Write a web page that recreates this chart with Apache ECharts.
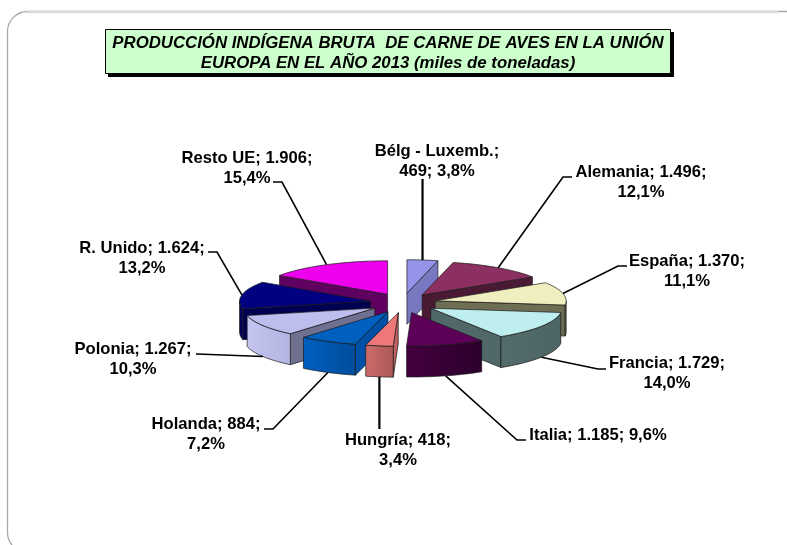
<!DOCTYPE html>
<html>
<head>
<meta charset="utf-8">
<style>html,body{margin:0;padding:0;background:#fff}#c{width:787px;height:545px}</style>
<script src="https://cdn.jsdelivr.net/npm/echarts@6/dist/echarts.min.js"></script>
</head>
<body>
<div id="c"></div>
<script>
// ---- data ----
const categories = ['Bélg - Luxemb.','Alemania','España','Francia','Italia','Hungría','Holanda','Polonia','R. Unido','Resto UE'];
const values = [469,1496,1370,1729,1185,418,884,1267,1624,1906];
const labelTexts = [
  'Bélg - Luxemb.;\n469; 3,8%','Alemania; 1.496;\n12,1%','España; 1.370;\n11,1%','Francia; 1.729;\n14,0%',
  'Italia; 1.185; 9,6%','Hungría; 418;\n3,4%','Holanda; 884;\n7,2%','Polonia; 1.267;\n10,3%','R. Unido; 1.624;\n13,2%','Resto UE; 1.906;\n15,4%'
];
const titleText = 'PRODUCCIÓN INDÍGENA BRUTA  DE CARNE DE AVES EN LA UNIÓN\nEUROPA EN EL AÑO 2013 (miles de toneladas)';

// ---- styles ----
const topColors = ['#9494EA','#8B3060','#EEEEBE','#BEEEEE','#5C0058','#EE7878','#0060C0','#BEBEEE','#000080','#EE00EE'];
const edgeColors = ['#7878C0','#4A1A35','#6E6E55','#506868','#3A0038','#BC6060','#0050A8','#707090','#000050','#600060'];
const wallFrom = ['#7878C0','#4A1A35','#6E6E55','#546C6C','#44003F','#CC6C6C','#0060C0','#C4C4F0','#000060','#600060'];
const wallTo = ['#7878C0','#4A1A35','#6E6E55','#4C6464','#2C002C','#AC5858','#004C9C','#B4B4E2','#000050','#600060'];

// ---- layout ----
const cx = 403, cy = 303, rx = 131, ry = 33.5, depth = 31, ex = 33, ey = 9.8;
const labelPos = [[437,151],[641,172],[687,261],[667,363],[598,435],[398,440],[206,424],[133,349],[142,248],[247,158]];
const leaderEnds = [
  [[null,179]],[[563,177],[572,177]],[[618,266],[627,266]],[[598,369],[606,369]],[[517,440],[526,440]],
  [[null,429]],[[273,429],[264,429]],[[197,354],[196,354]],[[217,252],[208,252]],[[282,182],[273,182]]
];
const leaderWidth = [2.2,1.6,1.6,1.6,1.6,2.2,1.6,1.6,1.6,1.6];

const total = values.reduce((a,b)=>a+b,0);
const rad = d => d*Math.PI/180;
let acc = 0;
const slices = values.map(v=>{ const s=acc/total*360; acc+=v; return {start:s,end:acc/total*360,mid:(s+acc/total*360)/2}; });
const rankOf = {};
slices.map((s,i)=>[Math.cos(rad(s.mid)),i]).sort((a,b)=>b[0]-a[0]).forEach((p,r)=>rankOf[p[1]]=r);

function arcPts(ax,ay,a,b,dy){
  const n=Math.max(2,Math.ceil(Math.abs(b-a)/2)), pts=[];
  for(let k=0;k<=n;k++){ const t=rad(a+(b-a)*k/n); pts.push([ax+rx*Math.sin(t), ay-ry*Math.cos(t)+dy]); }
  return pts;
}
const line = {stroke:'#1a1a1a',lineWidth:0.7,lineJoin:'round'};

function renderSlice(params,api){
  const i=api.value(0), s=slices[i], z=(rankOf[i]+1)*10;
  const m=rad(s.mid), ax=cx+ex*Math.sin(m), ay=cy-ey*Math.cos(m);
  const kids=[];
  const poly=(pts,fill,zz)=>kids.push({type:'polygon',z2:zz,shape:{points:pts},style:Object.assign({fill},line)});
  const wall=(p)=>{poly([[ax,ay],p,[p[0],p[1]+depth],[ax,ay+depth]],edgeColors[i],z+1);};
  const sp=arcPts(ax,ay,s.start,s.start,0)[0], ep=arcPts(ax,ay,s.end,s.end,0)[0];
  if(s.start>180) wall(sp);
  if(s.end<180) wall(ep);
  const a=Math.max(s.start,90), b=Math.min(s.end,270);
  if(b>a){
    const up=arcPts(ax,ay,a,b,0), dn=arcPts(ax,ay,a,b,depth).reverse();
    poly(up.concat(dn),{type:'linear',x:0,y:0,x2:1,y2:0,colorStops:[{offset:0,color:wallFrom[i]},{offset:1,color:wallTo[i]}]},z+2);
  }
  poly([[ax,ay]].concat(arcPts(ax,ay,s.start,s.end,0)),topColors[i],z+3);
  // leader line from the middle of the slice's outer arc
  const from=[ax+rx*Math.sin(m), ay-ry*Math.cos(m)+(Math.cos(m)<0?depth:0)];
  const ends=leaderEnds[i].map(p=>[p[0]===null?from[0]:p[0],p[1]]);
  kids.push({type:'polyline',z2:200,shape:{points:[from].concat(ends)},style:{fill:null,stroke:'#000',lineWidth:leaderWidth[i]}});
  kids.push({type:'text',z2:201,style:{text:labelTexts[i],x:labelPos[i][0],y:labelPos[i][1]-9,align:'center',verticalAlign:'top',
    font:'bold 16.6px "Liberation Sans", Arial, sans-serif',lineHeight:19.4,fill:'#000'}});
  return {type:'group',children:kids};
}

const chart = echarts.init(document.getElementById('c'),null,{renderer:'canvas'});
chart.setOption({
  animation:false,
  backgroundColor:'#fff',
  title:{
    text:titleText,left:381,top:29,textAlign:'center',padding:[5,7,1,7],
    backgroundColor:'#CCFFCC',borderColor:'#000',borderWidth:1,
    textStyle:{fontFamily:'"Liberation Sans", Arial, sans-serif',fontWeight:'bold',fontStyle:'italic',fontSize:16.8,lineHeight:19.5,color:'#000'}
  },
  graphic:[
    {type:'rect',z:-1,silent:true,shape:{x:7.5,y:11.5,width:800,height:541,r:20},style:{fill:'#fff',stroke:'#a8a8a8',lineWidth:1.3}},
    {type:'line',z:-1,silent:true,shape:{x1:27,y1:12,x2:778,y2:12},style:{stroke:'#d9d9d9',lineWidth:2.4}},
    {type:'rect',z:-1,silent:true,shape:{x:108,y:32,width:566,height:45},style:{fill:'#000'}}
  ],
  series:[{
    type:'custom',coordinateSystem:'none',silent:true,clip:false,
    renderItem:renderSlice,
    data:values.map((v,i)=>({name:categories[i],value:[i,v]}))
  }]
});
</script>
</body>
</html>
